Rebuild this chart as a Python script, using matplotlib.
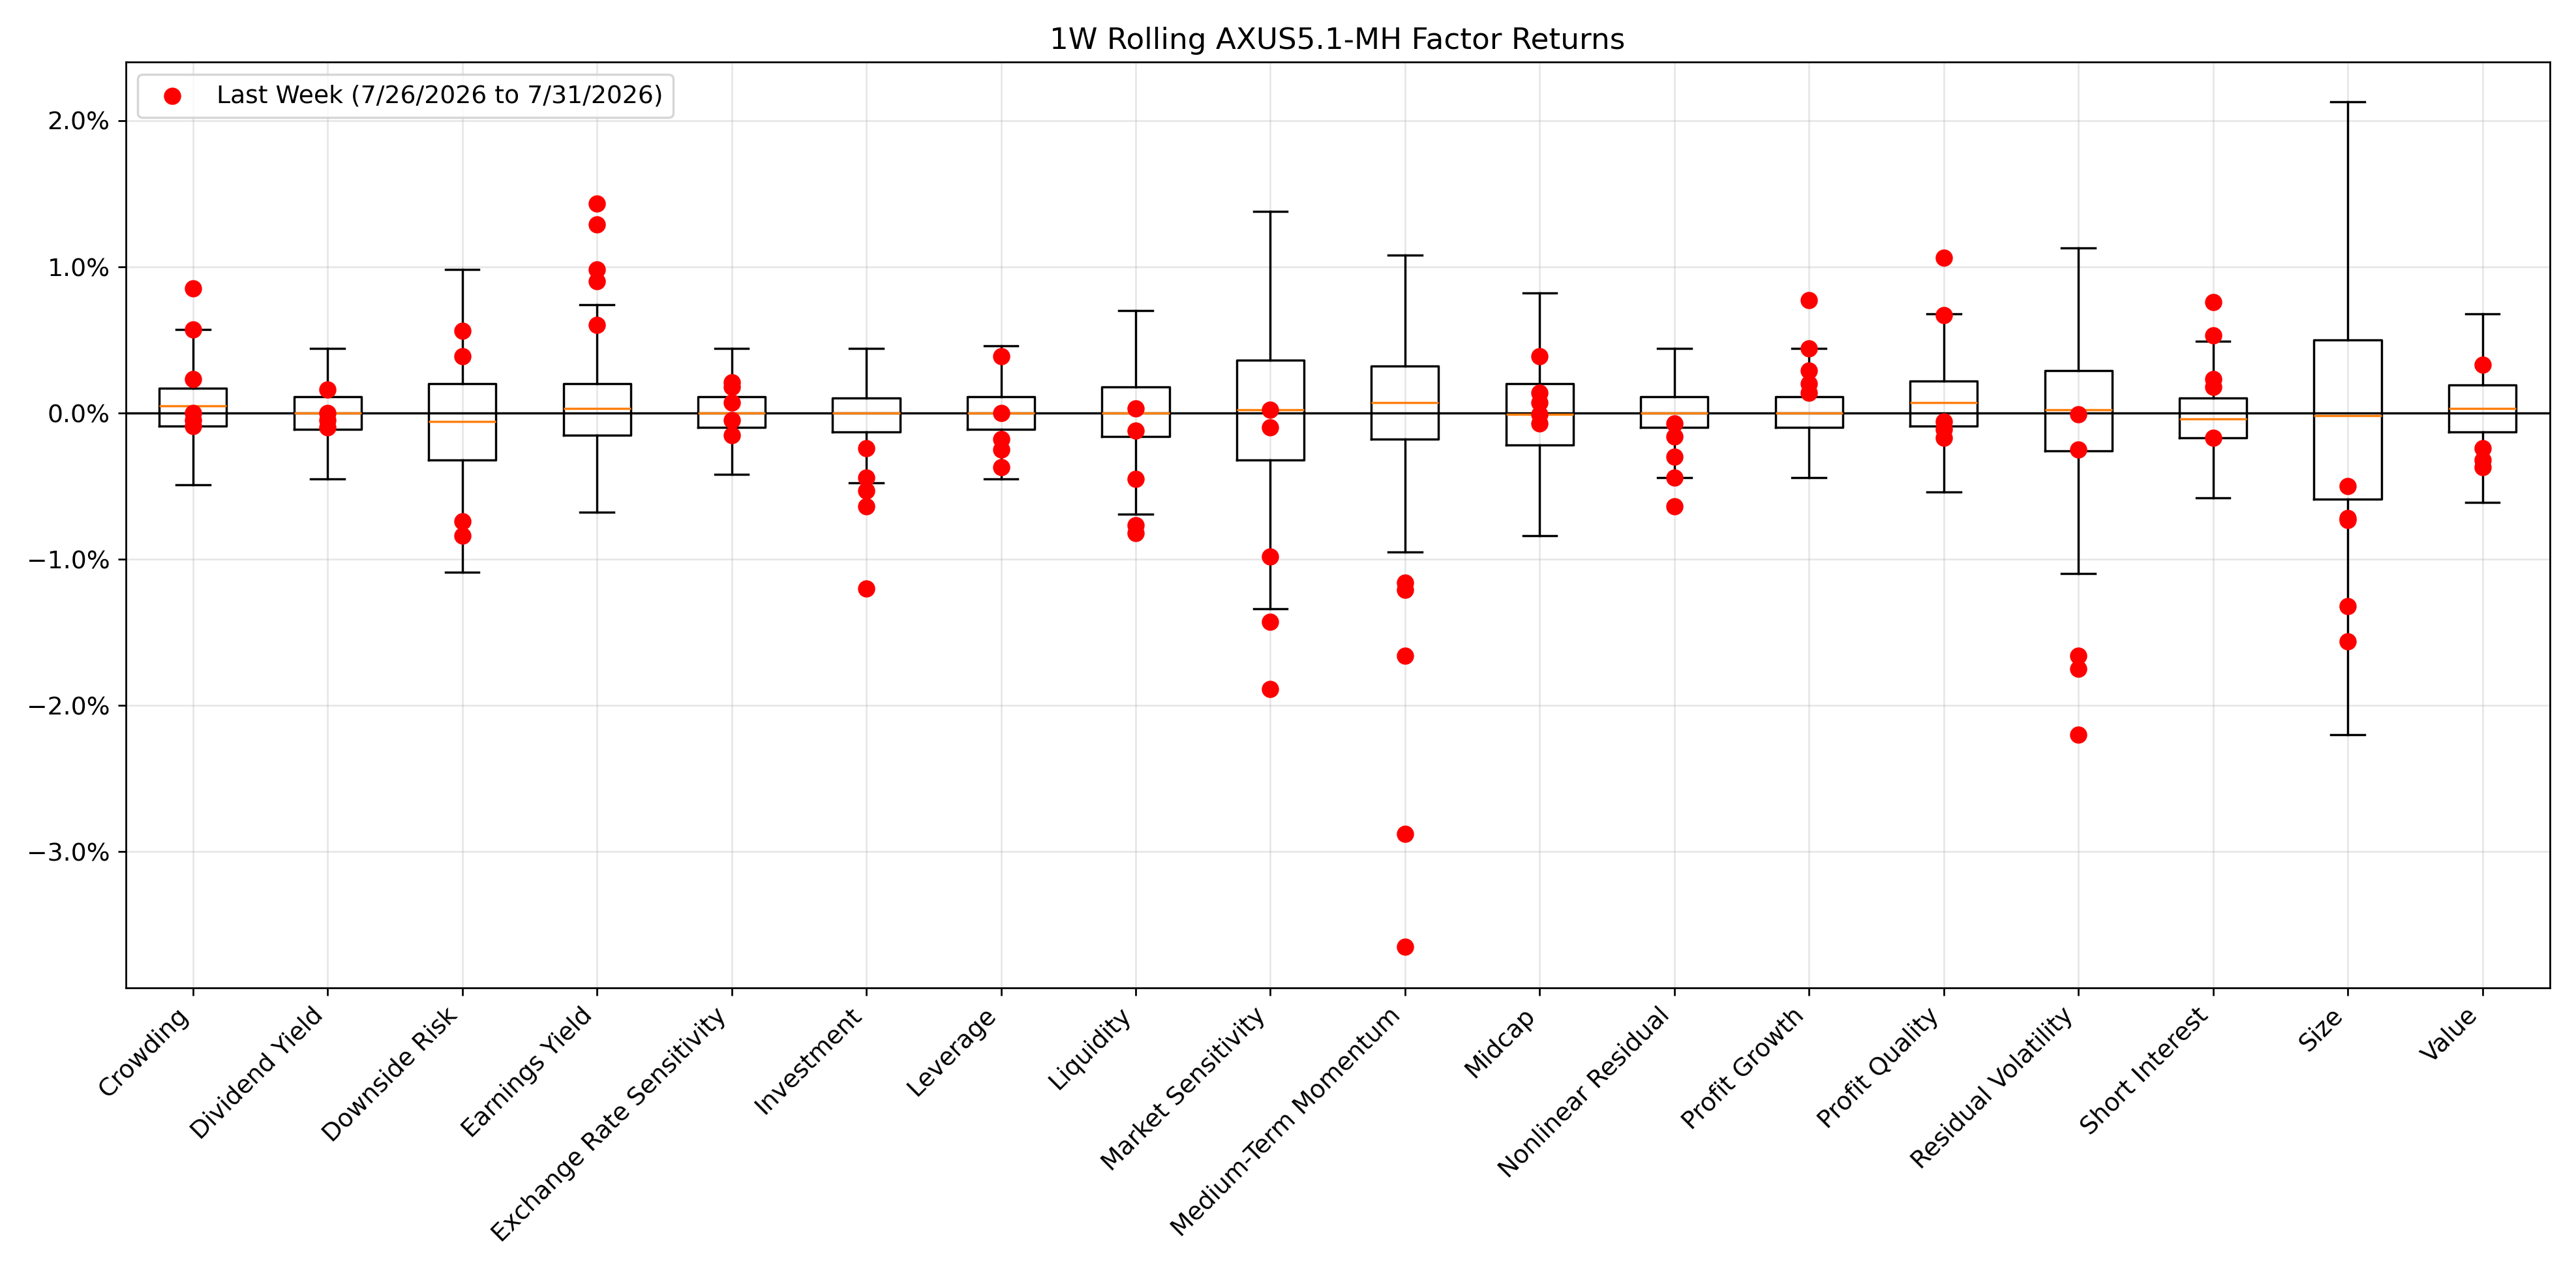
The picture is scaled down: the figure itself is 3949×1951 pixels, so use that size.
import matplotlib
matplotlib.use("Agg")
import matplotlib.pyplot as plt
from matplotlib.ticker import PercentFormatter

factors = ["Crowding", "Dividend Yield", "Downside Risk", "Earnings Yield",
           "Exchange Rate Sensitivity", "Investment", "Leverage", "Liquidity",
           "Market Sensitivity", "Medium-Term Momentum", "Midcap", "Nonlinear Residual",
           "Profit Growth", "Profit Quality", "Residual Volatility", "Short Interest",
           "Size", "Value"]

# box stats in percent
whislo = [-0.49, -0.45, -1.09, -0.68, -0.42, -0.48, -0.45, -0.69, -1.34, -0.95,
          -0.84, -0.44, -0.44, -0.54, -1.10, -0.58, -2.20, -0.61]
q1 = [-0.09, -0.11, -0.32, -0.15, -0.10, -0.13, -0.11, -0.16, -0.32, -0.18,
      -0.22, -0.10, -0.10, -0.09, -0.26, -0.17, -0.59, -0.13]
med = [0.05, 0.00, -0.06, 0.03, 0.00, 0.00, 0.00, 0.00, 0.02, 0.07,
       -0.01, 0.00, 0.00, 0.07, 0.02, -0.04, -0.02, 0.03]
q3 = [0.17, 0.11, 0.20, 0.20, 0.11, 0.10, 0.11, 0.18, 0.36, 0.32,
      0.20, 0.11, 0.11, 0.22, 0.29, 0.10, 0.50, 0.19]
whishi = [0.57, 0.44, 0.98, 0.74, 0.44, 0.44, 0.46, 0.70, 1.38, 1.08,
          0.82, 0.44, 0.44, 0.68, 1.13, 0.49, 2.13, 0.68]

# last week daily returns in percent
last_week = [
    [0.85, 0.57, 0.23, 0.00, -0.05, -0.09],
    [0.16, 0.00, -0.05, -0.10],
    [0.56, 0.39, -0.74, -0.84],
    [1.43, 1.29, 0.98, 0.90, 0.60],
    [0.21, 0.18, 0.07, -0.05, -0.15],
    [-0.24, -0.44, -0.53, -0.64, -1.20],
    [0.39, 0.00, -0.18, -0.25, -0.37],
    [0.03, -0.12, -0.45, -0.77, -0.82],
    [0.02, -0.10, -0.98, -1.43, -1.89],
    [-1.16, -1.21, -1.66, -2.88, -3.65],
    [0.39, 0.14, 0.07, -0.01, -0.07],
    [-0.07, -0.16, -0.30, -0.44, -0.64],
    [0.77, 0.44, 0.29, 0.20, 0.14],
    [1.06, 0.67, -0.06, -0.11, -0.17],
    [-0.01, -0.25, -1.66, -1.75, -2.20],
    [0.76, 0.53, 0.23, 0.18, -0.17],
    [-0.50, -0.72, -0.73, -1.32, -1.56],
    [0.33, -0.24, -0.32, -0.37],
]

stats = [dict(label=f, whislo=a, q1=b, med=c, q3=d, whishi=e, fliers=[])
         for f, a, b, c, d, e in zip(factors, whislo, q1, med, q3, whishi)]

plt.rcParams["font.size"] = 11
fig, ax = plt.subplots(figsize=(15.99, 7.9), dpi=247)
ax.bxp(stats, positions=range(1, len(factors) + 1), showfliers=False)

for i, vals in enumerate(last_week):
    ax.scatter([i + 1] * len(vals), vals, color="red", s=45, zorder=3,
               label="Last Week (7/26/2026 to 7/31/2026)" if i == 0 else None)

ax.axhline(0, color="black", lw=1)
ax.grid(True, alpha=0.3)
ax.set_ylim(-3.93, 2.40)
ax.yaxis.set_major_formatter(PercentFormatter(xmax=100, decimals=1))
ax.set_xticks(range(1, len(factors) + 1))
ax.set_xticklabels(factors, rotation=45, ha="right")
ax.set_title("1W Rolling AXUS5.1-MH Factor Returns")
ax.legend(loc="upper left")
plt.tight_layout()
plt.savefig("out.png")
